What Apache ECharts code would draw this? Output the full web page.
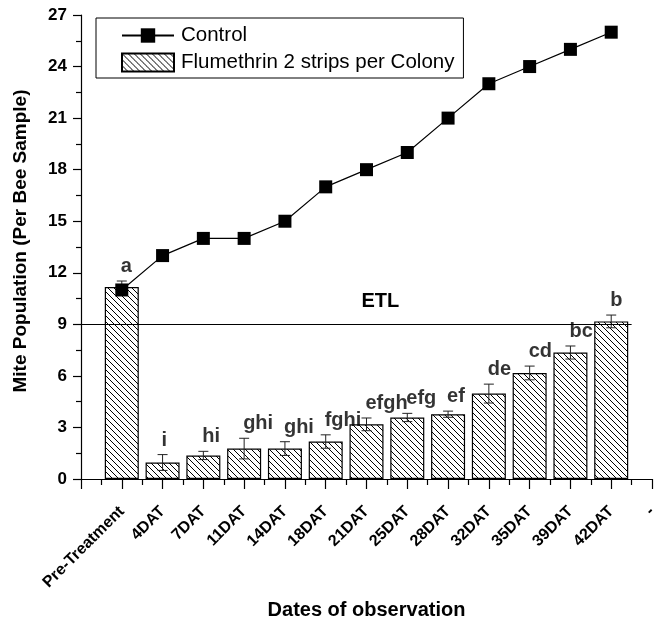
<!DOCTYPE html>
<html><head><meta charset="utf-8">
<script src="https://cdn.jsdelivr.net/npm/echarts@6/dist/echarts.min.js"></script>
<style>html,body{margin:0;padding:0;background:#fff}#c{width:661px;height:625px}</style>
</head><body><div id="c"></div>
<script>
const categories = ['Pre-Treatment','4DAT','7DAT','11DAT','14DAT','18DAT','21DAT','25DAT','28DAT','32DAT','35DAT','39DAT','42DAT'];
const xTickLabels = ['', 'Pre-Treatment','4DAT','7DAT','11DAT','14DAT','18DAT','21DAT','25DAT','28DAT','32DAT','35DAT','39DAT','42DAT','-'];
const controlValues = [11, 13, 14, 14, 15, 17, 18, 19, 21, 23, 24, 25, 26];
const flumethrinValues = [11.17, 0.96, 1.37, 1.77, 1.77, 2.18, 3.18, 3.58, 3.77, 4.97, 6.17, 7.36, 9.17];
const flumethrinErrors = [0.35, 0.46, 0.24, 0.6, 0.4, 0.39, 0.37, 0.24, 0.18, 0.55, 0.4, 0.38, 0.37];
const significanceLetters = ['a','i','hi','ghi','ghi','fghi','efgh','efg','ef','de','cd','bc','b'];
const etlValue = 9;
const seriesNames = ['Control', 'Flumethrin 2 strips per Colony'];

const FONT = '"Liberation Sans", Arial, sans-serif';

function hatch() {
  const s = 6, c = document.createElement('canvas');
  c.width = s; c.height = s;
  const g = c.getContext('2d');
  g.fillStyle = '#fff'; g.fillRect(0, 0, s, s);
  g.strokeStyle = '#000'; g.lineWidth = 1;
  g.beginPath();
  for (const k of [-s, 0, s]) { g.moveTo(k, 0); g.lineTo(k + s, s); }
  g.stroke();
  return c;
}
const hatchFill = { image: hatch(), repeat: 'repeat' };

const pos = categories.map((c, i) => i + 1);
const barData = pos.map((p, i) => [p, flumethrinValues[i]]);
const lineData = pos.map((p, i) => [p, controlValues[i]]);
const errData = pos.map((p, i) => [p, flumethrinValues[i] - flumethrinErrors[i], flumethrinValues[i] + flumethrinErrors[i]]);
const letterData = pos.map((p, i) => [p, flumethrinValues[i] + flumethrinErrors[i]]);

const chart = echarts.init(document.getElementById('c'), null, { renderer: 'canvas' });
chart.setOption({
  animation: false,
  backgroundColor: '#fff',
  textStyle: { fontFamily: FONT },
  grid: { left: 81, right: 9, top: 15, bottom: 143 },
  legend: {
    orient: 'vertical', left: 96, top: 18,
    data: [
      { name: seriesNames[0] },
      { name: seriesNames[1], icon: 'rect' }
    ],
    borderColor: '#000', borderWidth: 1, borderRadius: 0,
    padding: [7, 9, 5, 25],
    itemWidth: 52, itemHeight: 18, itemGap: 6,
    textStyle: { fontSize: 20.5, color: '#000', fontFamily: FONT, padding: [0, 0, 0, 2] },
    selectedMode: false
  },
  xAxis: {
    type: 'value', min: 0, max: 14, interval: 1,
    name: 'Dates of observation', nameLocation: 'middle', nameGap: 121,
    nameTextStyle: { fontSize: 20, fontWeight: 'bold', color: '#000', fontFamily: FONT },
    axisLine: { show: true, lineStyle: { color: '#000', width: 1.2 } },
    axisTick: { show: true, length: 10, lineStyle: { color: '#000', width: 1.2 } },
    minorTick: { show: true, splitNumber: 2, length: 6, lineStyle: { color: '#000', width: 1.2 } },
    splitLine: { show: false },
    axisLabel: {
      formatter: v => xTickLabels[v] || '',
      rotate: 45, align: 'right', verticalAlign: 'middle', margin: 30,
      fontSize: 16, fontWeight: 'bold', color: '#000', fontFamily: FONT,
      showMinLabel: true, showMaxLabel: true
    }
  },
  yAxis: {
    type: 'value', min: 0, max: 27, interval: 3,
    name: 'Mite Population (Per Bee Sample)', nameLocation: 'middle', nameGap: 51,
    nameTextStyle: { fontSize: 19, fontWeight: 'bold', color: '#000', fontFamily: FONT, padding: [0, 0, 0, 12] },
    axisLine: { show: true, lineStyle: { color: '#000', width: 1.2 } },
    axisTick: { show: true, length: 8, lineStyle: { color: '#000', width: 1.2 } },
    minorTick: { show: true, splitNumber: 2, length: 5, lineStyle: { color: '#000', width: 1.2 } },
    splitLine: { show: false },
    axisLabel: { fontSize: 17, fontWeight: 'bold', color: '#000', margin: 14, fontFamily: FONT }
  },
  series: [
    {
      name: seriesNames[1], type: 'bar', data: barData, barWidth: 34, z: 2,
      itemStyle: { color: hatchFill, borderColor: '#000', borderWidth: 1.2 },
      markLine: {
        silent: true, symbol: ['none', 'none'], animation: false,
        lineStyle: { color: '#000', width: 1.2, type: 'solid' },
        label: {
          show: true, formatter: 'ETL', position: 'insideMiddleTop', distance: 13,
          fontSize: 20, fontWeight: 'bold', color: '#000', fontFamily: FONT,
          padding: [0, 0, 0, 48]
        },
        data: [[{ coord: [0, etlValue] }, { coord: [categories.length + 0.5, etlValue] }]]
      }
    },
    {
      type: 'custom', data: errData, z: 3, silent: true,
      renderItem: (params, api) => {
        const x = api.value(0);
        const pLo = api.coord([x, api.value(1)]);
        const pHi = api.coord([x, api.value(2)]);
        const hw = 5;
        const style = { stroke: '#222', lineWidth: 1, fill: null };
        return { type: 'group', children: [
          { type: 'line', shape: { x1: pLo[0], y1: pLo[1], x2: pHi[0], y2: pHi[1] }, style },
          { type: 'line', shape: { x1: pHi[0] - hw, y1: pHi[1], x2: pHi[0] + hw, y2: pHi[1] }, style },
          { type: 'line', shape: { x1: pLo[0] - hw, y1: pLo[1], x2: pLo[0] + hw, y2: pLo[1] }, style }
        ]};
      }
    },
    {
      type: 'scatter', data: letterData, symbolSize: 1, z: 4, silent: true,
      itemStyle: { color: 'rgba(0,0,0,0)' },
      label: {
        show: true, position: 'top', distance: 4, align: 'left', verticalAlign: 'bottom',
        offset: [-1, 0],
        formatter: p => significanceLetters[p.dataIndex],
        fontSize: 20, fontWeight: 'bold', color: '#000', fontFamily: FONT
      }
    },
    {
      name: seriesNames[0], type: 'line', data: lineData, z: 5,
      symbol: 'rect', symbolSize: 13,
      itemStyle: { color: '#000' },
      lineStyle: { color: '#000', width: 1.2 }
    }
  ]
});
</script>
</body></html>
